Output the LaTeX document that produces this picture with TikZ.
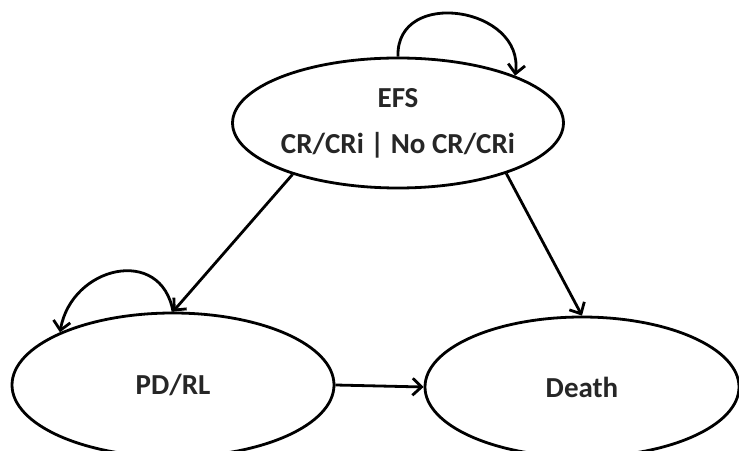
\documentclass[tikz,border=0pt]{standalone}
\usepackage{fontspec}
\setmainfont{Carlito}
\usetikzlibrary{shapes.geometric,arrows.meta}
\begin{document}
\begin{tikzpicture}[x=1pt, y=1pt,
  % State and transition styles
  state/.style={ellipse, draw=black, line width=2.8pt, inner sep=0pt, font=\fontsize{29}{34}\selectfont\bfseries, text=black!85, align=center},
  trans/.style={line width=2.8pt, -{Straight Barb[length=9pt, width=17pt, line width=2.8pt]}}
]
\useasboundingbox (0,0) rectangle (739,450);

% Layer 1: States
\node[state, minimum width=324pt, minimum height=130pt] (efs) at (398,327) {EFS\\[12pt]CR/CRi | No CR/CRi};
\node[state, minimum width=322pt, minimum height=144pt] (pdrl) at (173,65) {PD/RL};
\node[state, minimum width=314pt, minimum height=140pt] (death) at (582,63) {Death};

% Layer 2: Transitions between states
\draw[trans] (efs.206) -- (pdrl.north);
\draw[trans] (efs.335) -- (death.north);
\draw[trans] (pdrl.east) -- (death.west);

% Layer 3: Staying in the same state
\draw[trans] (efs.north) to[out=92, in=82, looseness=1.5] (efs.22);
\draw[trans] (pdrl.north) to[out=100, in=80, looseness=1.5] (pdrl.155);

\end{tikzpicture}
\end{document}
